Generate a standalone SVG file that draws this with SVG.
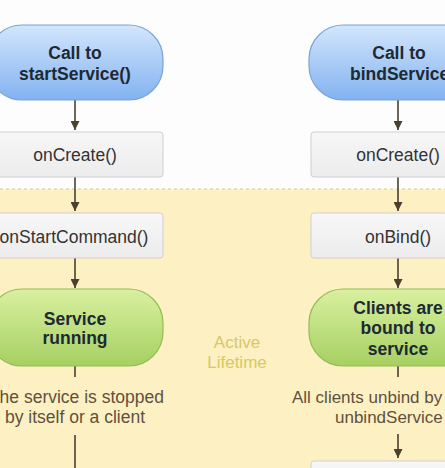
<svg xmlns="http://www.w3.org/2000/svg" width="445" height="468" viewBox="0 0 445 468">
<defs>
<linearGradient id="gBlue" x1="0" y1="0" x2="0" y2="1">
<stop offset="0" stop-color="#d3e6fc"/>
<stop offset="1" stop-color="#82b2f0"/>
</linearGradient>
<linearGradient id="gGreen" x1="0" y1="0" x2="0" y2="1">
<stop offset="0" stop-color="#d9f0a0"/>
<stop offset="1" stop-color="#a6d062"/>
</linearGradient>
<linearGradient id="gGray" x1="0" y1="0" x2="0" y2="1">
<stop offset="0" stop-color="#f7f7f7"/>
<stop offset="1" stop-color="#ececec"/>
</linearGradient>
<marker id="arr" viewBox="0 0 10 10" refX="10" refY="5" markerWidth="9" markerHeight="9" markerUnits="userSpaceOnUse" orient="auto">
<path d="M0,0 L10,5 L0,10 z" fill="#4a4030"/>
</marker>
</defs>
<style>
.blue{fill:url(#gBlue);stroke:#7aa3d8;stroke-width:1.2}
.green{fill:url(#gGreen);stroke:#93bc55;stroke-width:1.2}
.box{fill:url(#gGray);stroke:#cfcfcf;stroke-width:1}
.bold{font-family:"Liberation Sans",Arial,sans-serif;font-weight:bold;font-size:17.5px;fill:#1d2a33}
.lbl{font-family:"Liberation Sans",Arial,sans-serif;font-size:17.5px;fill:#333}
.desc{font-family:"Liberation Sans",Arial,sans-serif;font-size:17.5px;fill:#5e523e}
.life{font-family:"Liberation Sans",Arial,sans-serif;font-size:17px;fill:#d6c966}
.mid{text-anchor:middle}
.st{text-anchor:start}
.en{text-anchor:end}
.ln{stroke:#4a4030;stroke-width:1.6;fill:none}
</style>
<rect x="0" y="0" width="445" height="468" fill="#fdfdfd"/>
<rect x="0" y="189" width="445" height="279" fill="#fdf0c3"/>
<line x1="0" y1="189" x2="445" y2="189" stroke="#d9c88c" stroke-width="1" stroke-dasharray="3,3"/>
<text class="life mid" x="237" y="348">Active</text>
<text class="life mid" x="237" y="368">Lifetime</text>

<g id="connectors">
<line class="ln" x1="75" y1="100" x2="75" y2="130" marker-end="url(#arr)"/>
<line class="ln" x1="75" y1="177" x2="75" y2="211" marker-end="url(#arr)"/>
<line class="ln" x1="75" y1="258" x2="75" y2="288" marker-end="url(#arr)"/>
<line class="ln" x1="75" y1="366" x2="75" y2="377"/>
<line class="ln" x1="75" y1="435" x2="75" y2="468"/>
<line class="ln" x1="398" y1="100" x2="398" y2="130" marker-end="url(#arr)"/>
<line class="ln" x1="398" y1="177" x2="398" y2="211" marker-end="url(#arr)"/>
<line class="ln" x1="398" y1="258" x2="398" y2="288" marker-end="url(#arr)"/>
<line class="ln" x1="398" y1="366" x2="398" y2="377"/>
<line class="ln" x1="398" y1="434" x2="398" y2="458" marker-end="url(#arr)"/>
</g>

<g id="start-call">
<rect class="blue" x="-12" y="25" width="175" height="75" rx="34" ry="34"/>
<text class="bold mid" x="75" y="59">Call to</text>
<text class="bold mid" x="75" y="80">startService()</text>
</g>
<g id="start-oncreate">
<rect class="box" x="-4" y="132" width="167" height="45" rx="3"/>
<text class="lbl mid" x="75" y="161">onCreate()</text>
</g>
<g id="onstartcommand">
<rect class="box" x="-4" y="213" width="167" height="45" rx="3"/>
<text class="lbl mid" x="74" y="243">onStartCommand()</text>
</g>
<g id="service-running">
<rect class="green" x="-12" y="289" width="175" height="77" rx="34" ry="34"/>
<text class="bold mid" x="75" y="325">Service</text>
<text class="bold mid" x="75" y="344">running</text>
</g>
<g id="start-stop-text">
<text class="desc en" x="164" y="403">he service is stopped</text>
<text class="desc mid" x="75" y="423">by itself or a client</text>
</g>

<g id="bind-call">
<rect class="blue" x="309" y="25" width="175" height="75" rx="34" ry="34"/>
<text class="bold mid" x="399" y="59">Call to</text>
<text class="bold st" x="350" y="80">bindService(</text>
</g>
<g id="bind-oncreate">
<rect class="box" x="311" y="132" width="167" height="45" rx="3"/>
<text class="lbl mid" x="398" y="161">onCreate()</text>
</g>
<g id="onbind">
<rect class="box" x="311" y="213" width="167" height="45" rx="3"/>
<text class="lbl mid" x="398" y="243">onBind()</text>
</g>
<g id="clients-bound">
<rect class="green" x="309" y="289" width="175" height="77" rx="34" ry="34"/>
<text class="bold mid" x="398" y="314">Clients are</text>
<text class="bold mid" x="398" y="334">bound to</text>
<text class="bold mid" x="398" y="355">service</text>
</g>
<g id="unbind-text">
<text class="desc st" x="292" y="403" style="font-size:17px">All clients unbind by</text>
<text class="desc st" x="335" y="423" style="font-size:17px">unbindService</text>
</g>
<g id="bind-next">
<rect class="box" x="311" y="461" width="167" height="45" rx="3"/>
</g>
</svg>
